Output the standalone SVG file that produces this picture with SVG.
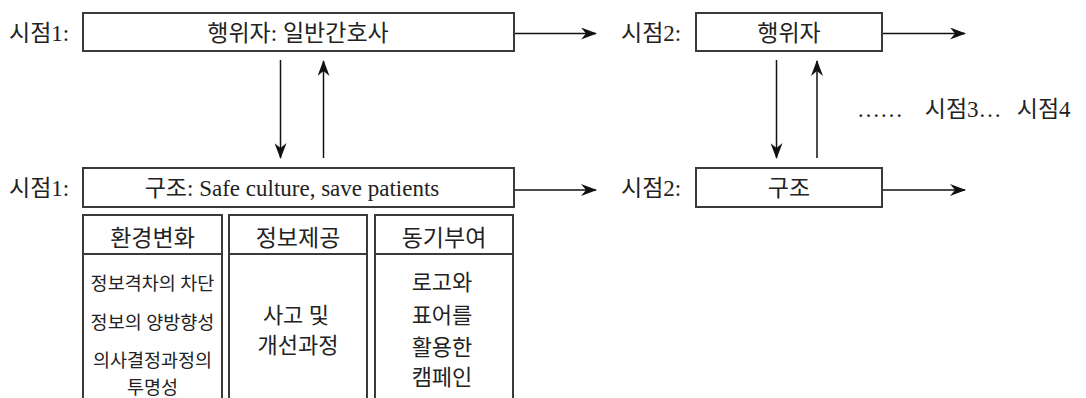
<svg xmlns="http://www.w3.org/2000/svg" width="1086" height="398" viewBox="0 0 1086 398">
<defs>
<style>
text{font-family:"Liberation Serif","Noto Sans CJK KR",serif;fill:#222;}
.lbl{font-size:23px;}
.hd{font-size:23px;text-anchor:middle;}
.sm{font-size:18.5px;text-anchor:middle;}
.md{font-size:22px;text-anchor:middle;}
.box{fill:#fff;stroke:#3a3a3a;stroke-width:2;}
.col{fill:none;stroke:#3a3a3a;stroke-width:2;}
.con{fill:none;stroke:#111;stroke-width:1.5;}
</style>
<marker id="ah" viewBox="0 0 16 12" refX="15" refY="6" markerWidth="16" markerHeight="12" markerUnits="userSpaceOnUse" orient="auto">
<path d="M0,0 L16,6 L0,12 L5,6 Z" fill="#111"/>
</marker>
</defs>
<rect width="1086" height="398" fill="#fff"/>

<g id="connectors">
<line class="con" x1="514" y1="33.5" x2="596" y2="33.5" marker-end="url(#ah)"/>
<line class="con" x1="882" y1="33.5" x2="965" y2="33.5" marker-end="url(#ah)"/>
<line class="con" x1="514" y1="190" x2="596" y2="190" marker-end="url(#ah)"/>
<line class="con" x1="882" y1="190" x2="965" y2="190" marker-end="url(#ah)"/>
<line class="con" x1="280.5" y1="60" x2="280.5" y2="158" marker-end="url(#ah)"/>
<line class="con" x1="323.5" y1="158" x2="323.5" y2="61" marker-end="url(#ah)"/>
<line class="con" x1="776.5" y1="60" x2="776.5" y2="158" marker-end="url(#ah)"/>
<line class="con" x1="817" y1="158" x2="817" y2="61" marker-end="url(#ah)"/>
</g>

<g id="actor1">
<text class="lbl" x="9" y="40.5">시점1:</text>
<rect class="box" x="83" y="13" width="431" height="38"/>
<text class="lbl" x="298" y="40.5" text-anchor="middle">행위자: 일반간호사</text>
</g>

<g id="actor2">
<text class="lbl" x="621" y="40.5">시점2:</text>
<rect class="box" x="696" y="13" width="186" height="38"/>
<text class="lbl" x="789" y="40.5" text-anchor="middle">행위자</text>
</g>

<g id="structure1">
<text class="lbl" x="9" y="196">시점1:</text>
<rect class="box" x="83" y="168" width="431" height="39"/>
<text class="lbl" x="292" y="196" text-anchor="middle">구조: Safe culture, save patients</text>
</g>

<g id="structure2">
<text class="lbl" x="621" y="196">시점2:</text>
<rect class="box" x="696" y="168" width="186" height="39"/>
<text class="lbl" x="789" y="196" text-anchor="middle">구조</text>
</g>

<g id="later">
<text class="lbl" y="117"><tspan x="857">……</tspan><tspan x="919"> 시점3…</tspan><tspan x="1011"> 시점4</tspan></text>
</g>

<g id="env">
<path class="col" d="M83,400 V215 H222 V400 M83,254 H222"/>
<text class="hd" x="152.5" y="246">환경변화</text>
<text class="sm" x="152.5" y="290">정보격차의 차단</text>
<text class="sm" x="152.5" y="329">정보의 양방향성</text>
<text class="sm" x="152.5" y="367">의사결정과정의</text>
<text class="sm" x="152.5" y="394">투명성</text>
</g>

<g id="info">
<path class="col" d="M229,400 V215 H367 V400 M229,254 H367"/>
<text class="hd" x="298" y="246">정보제공</text>
<text class="md" x="296" y="323">사고 및</text>
<text class="md" x="298" y="353">개선과정</text>
</g>

<g id="motiv">
<path class="col" d="M375,400 V215 H513 V400 M375,254 H513"/>
<text class="hd" x="444" y="246">동기부여</text>
<text class="md" x="442" y="290">로고와</text>
<text class="md" x="442" y="323">표어를</text>
<text class="md" x="442" y="355">활용한</text>
<text class="md" x="442" y="385">캠페인</text>
</g>
</svg>
